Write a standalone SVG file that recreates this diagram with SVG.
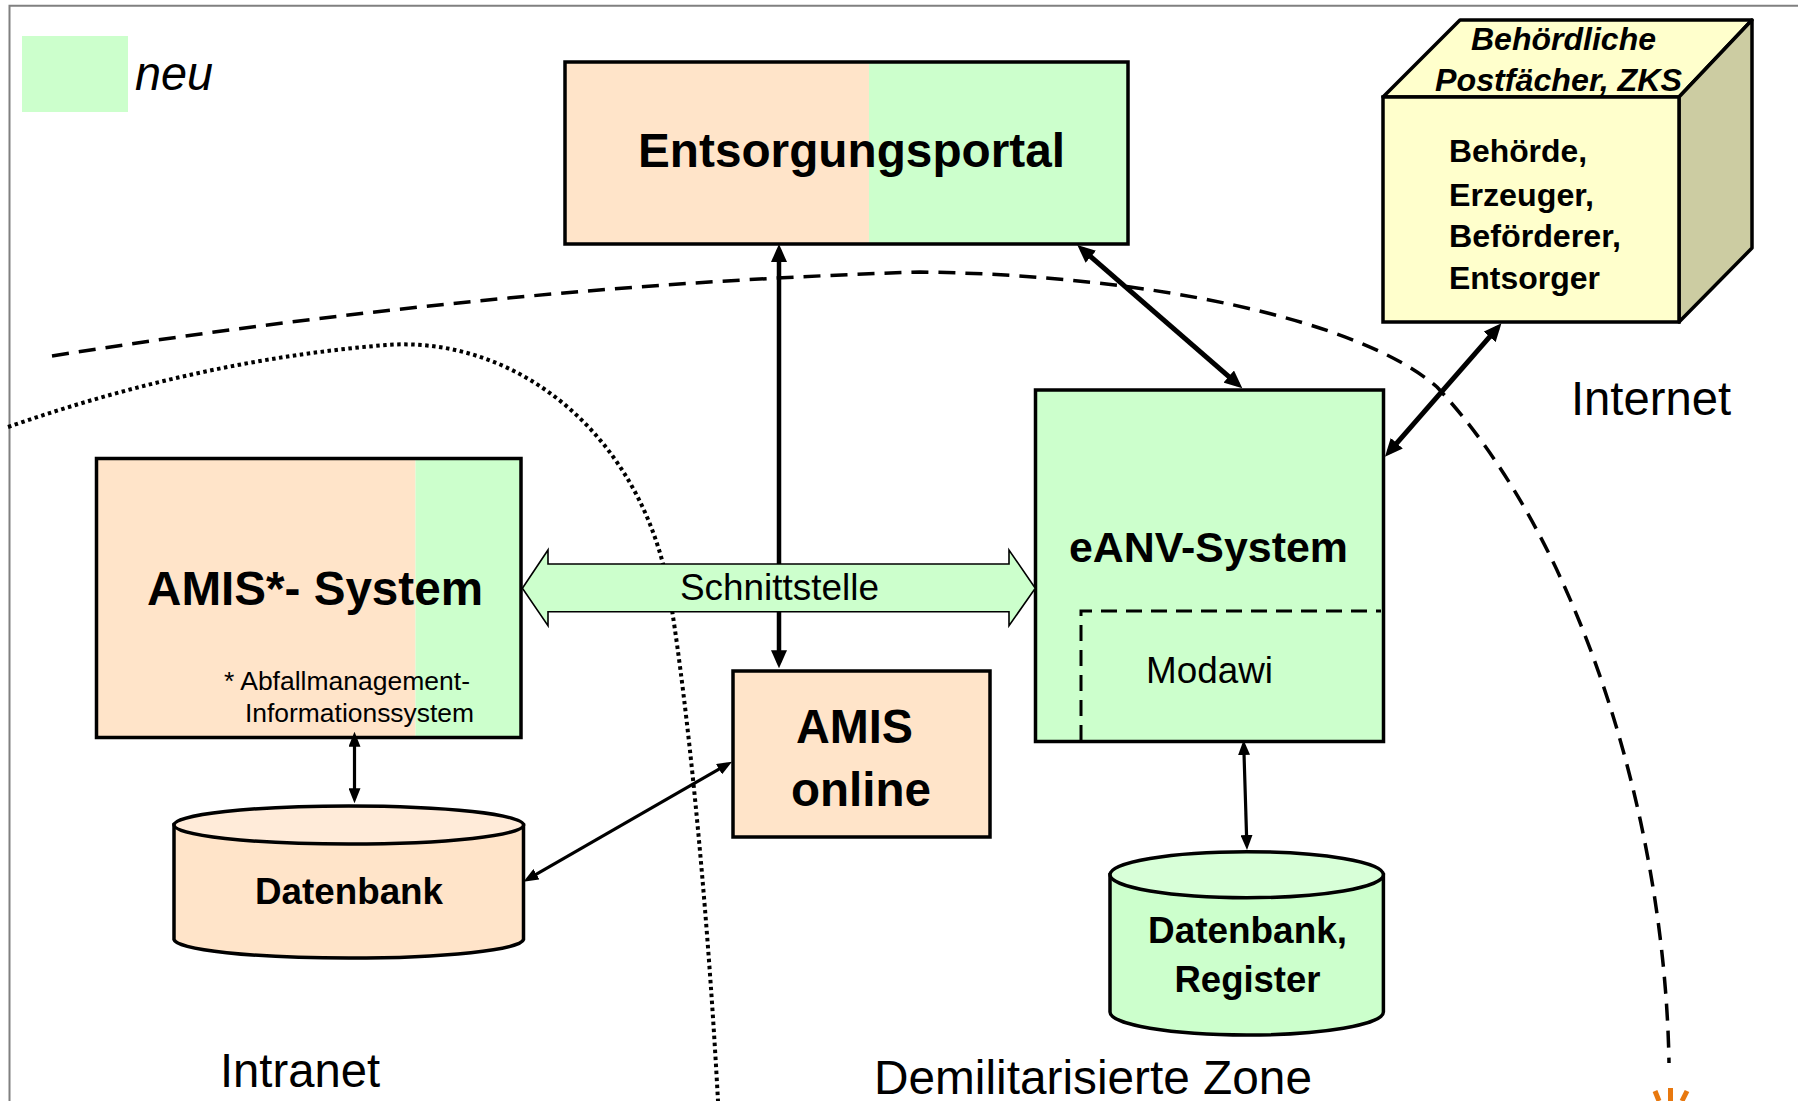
<svg xmlns="http://www.w3.org/2000/svg" width="1802" height="1101" viewBox="0 0 1802 1101">
<style>
.t{font-family:"Liberation Sans",Arial,sans-serif;fill:#000}
.b{font-weight:bold}
.i{font-style:italic}
.box{stroke:#000;stroke-width:3.5}
.con{stroke:#000;fill:none}
.thick{stroke-width:5}
.thin{stroke-width:3.2}
.peach{fill:#FFE4C9}
.green{fill:#CCFFCC}
</style>
<defs>
<marker id="ahT" viewBox="0 0 18 16" markerWidth="18" markerHeight="16" refX="12" refY="8" orient="auto-start-reverse" markerUnits="userSpaceOnUse"><path d="M0,0 L18,8 L0,16 z" fill="#000"/></marker>
<marker id="aht" viewBox="0 0 15 12" markerWidth="15" markerHeight="12" refX="10" refY="6" orient="auto-start-reverse" markerUnits="userSpaceOnUse"><path d="M0,0 L15,6 L0,12 z" fill="#000"/></marker>
</defs>
<rect width="1802" height="1101" fill="#fff"/>
<g id="frame" stroke="#808080" stroke-width="2" fill="none">
<path d="M9.5,1101 V5.7 H1798"/>
</g>
<g id="legend">
<rect x="22" y="36" width="106" height="76" class="green"/>
<text class="t i" x="135" y="90" font-size="48" textLength="78" lengthAdjust="spacingAndGlyphs">neu</text>
</g>
<g id="zones" fill="none" stroke="#000">
<path d="M52,356 Q500,285 920,272 C1150,275 1360,320 1437,387 C1580,540 1665,820 1669,1063" stroke-width="3.5" stroke-dasharray="17 10"/>
<path d="M8,427 Q200,360 386,345 C520,335 650,440 672,610 C686,700 706,880 718,1101" stroke-width="4" stroke-dasharray="3.5 3.5"/>
</g>
<g id="entsorgungsportal">
<rect x="565" y="62" width="304" height="182" class="peach"/>
<rect x="869" y="62" width="259" height="182" class="green"/>
<rect x="565" y="62" width="563" height="182" fill="none" class="box"/>
<text class="t b" x="638" y="167" font-size="48" textLength="427" lengthAdjust="spacingAndGlyphs">Entsorgungsportal</text>
</g>
<g id="behoerden">
<polygon points="1383,97 1460,20 1752,20 1679,97" fill="#FFFFCC" class="box" stroke-linejoin="round"/>
<polygon points="1679,97 1752,20 1752,248 1679,322" fill="#CCCCA2" class="box" stroke-linejoin="round"/>
<rect x="1383" y="97" width="296" height="225" fill="#FFFFCC" class="box"/>
<text class="t b i" x="1471" y="50" font-size="32" textLength="185" lengthAdjust="spacingAndGlyphs">Behördliche</text>
<text class="t b i" x="1435" y="91" font-size="32" textLength="247" lengthAdjust="spacingAndGlyphs">Postfächer, ZKS</text>
<text class="t b" x="1449" y="162" font-size="32" textLength="138" lengthAdjust="spacingAndGlyphs">Behörde,</text>
<text class="t b" x="1449" y="205.5" font-size="32" textLength="145" lengthAdjust="spacingAndGlyphs">Erzeuger,</text>
<text class="t b" x="1449" y="247" font-size="32" textLength="172" lengthAdjust="spacingAndGlyphs">Beförderer,</text>
<text class="t b" x="1449" y="288.5" font-size="32" textLength="151" lengthAdjust="spacingAndGlyphs">Entsorger</text>
</g>
<g id="amis-system">
<rect x="96.5" y="458.5" width="319" height="279" class="peach"/>
<rect x="415.5" y="458.5" width="105.5" height="279" class="green"/>
<rect x="96.5" y="458.5" width="424.5" height="279" fill="none" class="box"/>
<text class="t b" x="147" y="605" font-size="48" textLength="336" lengthAdjust="spacingAndGlyphs">AMIS*- System</text>
<text class="t" x="224" y="690" font-size="25" textLength="246" lengthAdjust="spacingAndGlyphs">* Abfallmanagement-</text>
<text class="t" x="245" y="722" font-size="25" textLength="229" lengthAdjust="spacingAndGlyphs">Informationssystem</text>
</g>
<g id="amis-online">
<rect x="733" y="671" width="257" height="166" class="peach box"/>
<text class="t b" x="796" y="743" font-size="48" textLength="117" lengthAdjust="spacingAndGlyphs">AMIS</text>
<text class="t b" x="791" y="806" font-size="48" textLength="140" lengthAdjust="spacingAndGlyphs">online</text>
</g>
<g id="eanv-system">
<rect x="1035.5" y="390" width="348" height="351.5" class="green box"/>
<path d="M1081,741 V611 H1381" fill="none" stroke="#000" stroke-width="3" stroke-dasharray="16 9"/>
<text class="t b" x="1069" y="562" font-size="42" textLength="279" lengthAdjust="spacingAndGlyphs">eANV-System</text>
<text class="t" x="1146" y="682.5" font-size="36" textLength="127" lengthAdjust="spacingAndGlyphs">Modawi</text>
</g>
<g id="datenbank">
<path d="M174,825 V939.5 A174.8,19 0 0 0 523.5,939.5 V825 z" class="peach box"/>
<ellipse cx="348.8" cy="825" rx="174.8" ry="19" fill="#FFEBD9" class="box"/>
<text class="t b" x="255" y="904" font-size="36" textLength="188" lengthAdjust="spacingAndGlyphs">Datenbank</text>
</g>
<g id="datenbank-register">
<path d="M1110,874.7 V1012 A136.7,23 0 0 0 1383.4,1012 V874.7 z" class="green box"/>
<ellipse cx="1246.7" cy="874.7" rx="136.7" ry="23" fill="#D8FFD8" class="box"/>
<text class="t b" x="1148" y="943" font-size="36" textLength="199" lengthAdjust="spacingAndGlyphs">Datenbank,</text>
<text class="t b" x="1174.5" y="992" font-size="36" textLength="146" lengthAdjust="spacingAndGlyphs">Register</text>
</g>
<g id="connectors">
<line x1="779" y1="250" x2="779" y2="662.3" class="con" stroke-width="4.5" marker-start="url(#ahT)" marker-end="url(#ahT)"/>
<line x1="1081.8" y1="248.9" x2="1237.8" y2="384.4" class="con thick" marker-start="url(#ahT)" marker-end="url(#ahT)"/>
<line x1="1497.5" y1="327.8" x2="1388.9" y2="452.2" class="con thick" marker-start="url(#ahT)" marker-end="url(#ahT)"/>
<line x1="354.5" y1="736.7" x2="354.5" y2="798.3" class="con thin" marker-start="url(#aht)" marker-end="url(#aht)"/>
<line x1="727.7" y1="764.2" x2="527.8" y2="879.2" class="con thin" marker-start="url(#aht)" marker-end="url(#aht)"/>
<line x1="1243.75" y1="745" x2="1246.85" y2="845" class="con thin" marker-start="url(#aht)" marker-end="url(#aht)"/>
<g id="schnittstelle">
<polygon points="522.4,588.3 548,550 548,564 1009,564 1009,550 1035.3,588.3 1009,625.7 1009,611.7 548,611.7 548,625.7" fill="#CCFFCC" stroke="#000" stroke-width="1.6"/>
<text class="t" x="680" y="600" font-size="36" textLength="199" lengthAdjust="spacingAndGlyphs">Schnittstelle</text>
</g>
</g>
<g id="zone-labels">
<text class="t" x="1571" y="415" font-size="48" textLength="160" lengthAdjust="spacingAndGlyphs">Internet</text>
<text class="t" x="220" y="1087" font-size="48" textLength="160" lengthAdjust="spacingAndGlyphs">Intranet</text>
<text class="t" x="874" y="1094" font-size="48" textLength="438" lengthAdjust="spacingAndGlyphs">Demilitarisierte Zone</text>
</g>
<g id="orange-mark" stroke="#E8780E" stroke-width="5" fill="none">
<line x1="1655" y1="1091" x2="1659" y2="1101"/>
<line x1="1670.5" y1="1088" x2="1670.5" y2="1101"/>
<line x1="1687" y1="1091" x2="1682" y2="1101"/>
</g>
</svg>
